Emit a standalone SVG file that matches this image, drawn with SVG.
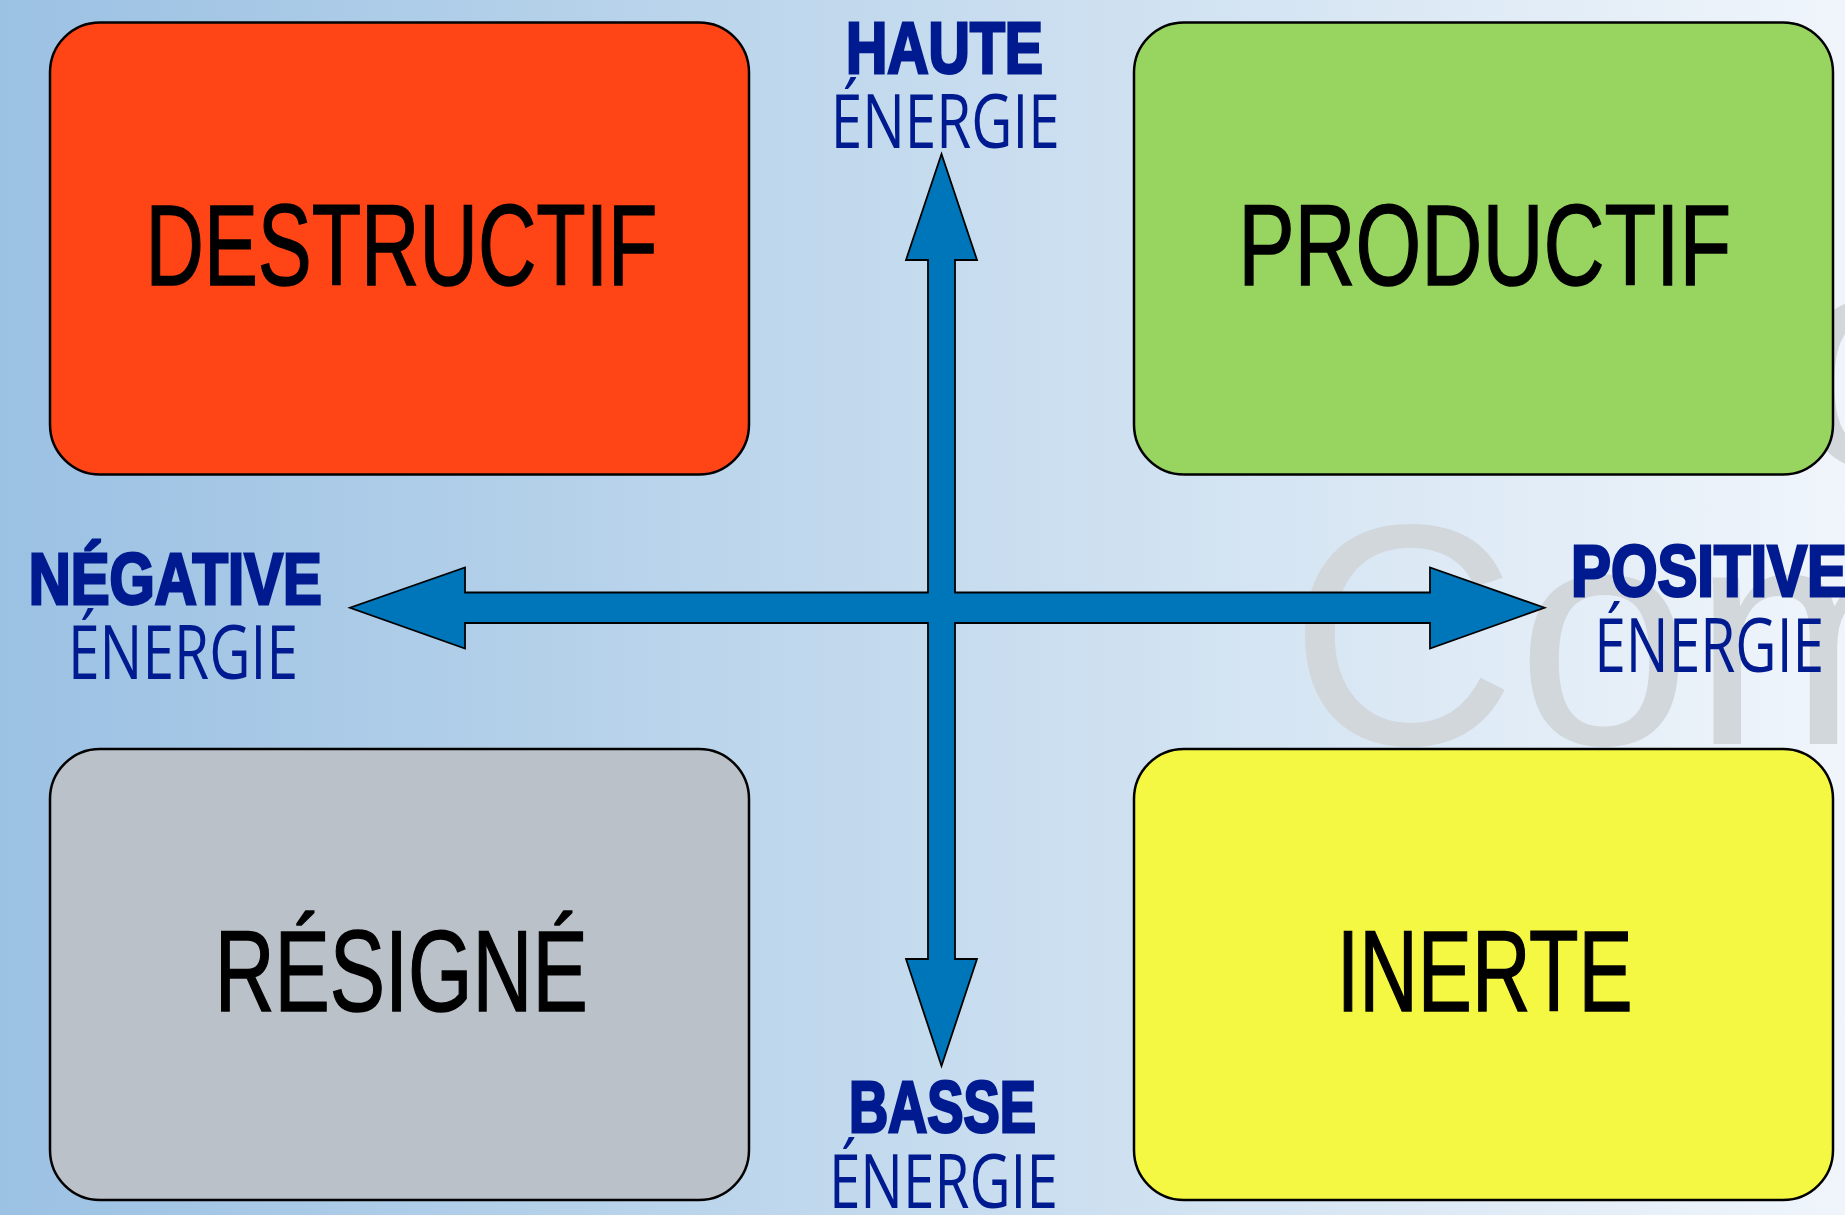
<svg xmlns="http://www.w3.org/2000/svg" width="1845" height="1215" viewBox="0 0 1845 1215">
<defs>
<linearGradient id="bg" x1="0" y1="0" x2="1" y2="0">
<stop offset="0" stop-color="#9BC1E3"/>
<stop offset="0.5" stop-color="#C5DBEE"/>
<stop offset="1" stop-color="#F0F5FB"/>
</linearGradient>
<style>
.box{stroke:#000;stroke-width:2.5}
.lbl{font-family:"Liberation Sans",Arial,sans-serif;font-size:115px;fill:#000;stroke:#000;stroke-width:1.5;text-anchor:middle}
.bold{font-family:"Liberation Sans",Arial,sans-serif;font-weight:700;font-size:72.6px;fill:#001A8F;stroke:#001A8F;stroke-width:3;text-anchor:middle}
.thin{font-family:"Open Sans","Liberation Sans",sans-serif;font-weight:400;font-size:75.5px;fill:#001A8F;text-anchor:middle}
.wm{font-family:"Liberation Sans",Arial,sans-serif;font-size:315px;fill:#D2D7DC}
.arrow{fill:#0076BA;stroke:#000;stroke-width:1.8;stroke-linejoin:miter}
</style>
</defs>
<rect width="1845" height="1215" fill="url(#bg)"/>
<g id="watermark">
<text class="wm" x="1792" y="467">o</text>
<text class="wm" x="1289" y="744">Com</text>
</g>
<g id="connectors">
<path class="arrow" d="M941.5,154 L977,260 L955,260 L955,592.5 L1430,592.5 L1430,567.5 L1544.5,607.75 L1430,648.5 L1430,623 L955,623 L955,959 L977,959 L941.5,1066 L906,959 L928,959 L928,623 L465,623 L465,648.5 L350,607.75 L465,567.5 L465,592.5 L928,592.5 L928,260 L906,260 Z"/>
</g>
<g id="node-destructif">
<rect class="box" x="50" y="22.5" width="699" height="452" rx="50" ry="50" fill="#FF4416"/>
<text class="lbl" x="401.5" y="284.75" textLength="512" lengthAdjust="spacingAndGlyphs">DESTRUCTIF</text>
</g>
<g id="node-productif">
<rect class="box" x="1134" y="22.5" width="699" height="452" rx="50" ry="50" fill="#97D560"/>
<text class="lbl" x="1484.7" y="284.75" textLength="493" lengthAdjust="spacingAndGlyphs">PRODUCTIF</text>
</g>
<g id="node-resigne">
<rect class="box" x="50" y="749" width="699" height="451" rx="50" ry="50" fill="#BAC1C9"/>
<text class="lbl" x="401.2" y="1011" textLength="373" lengthAdjust="spacingAndGlyphs">RÉSIGNÉ</text>
</g>
<g id="node-inerte">
<rect class="box" x="1134" y="749" width="699" height="451" rx="50" ry="50" fill="#F5F842"/>
<text class="lbl" x="1484.7" y="1011" textLength="296" lengthAdjust="spacingAndGlyphs">INERTE</text>
</g>
<g id="label-haute">
<text class="bold" x="944.5" y="72.5" textLength="197" lengthAdjust="spacingAndGlyphs">HAUTE</text>
<text class="thin" x="945.2" y="148.3" textLength="229" lengthAdjust="spacingAndGlyphs">ÉNERGIE</text>
</g>
<g id="label-negative">
<text class="bold" x="175.3" y="603.5" textLength="293" lengthAdjust="spacingAndGlyphs">NÉGATIVE</text>
<text class="thin" x="183" y="679.3" textLength="230" lengthAdjust="spacingAndGlyphs">ÉNERGIE</text>
</g>
<g id="label-positive">
<text class="bold" x="1709" y="595.8" textLength="276" lengthAdjust="spacingAndGlyphs">POSITIVE</text>
<text class="thin" x="1709.2" y="671.7" textLength="230" lengthAdjust="spacingAndGlyphs">ÉNERGIE</text>
</g>
<g id="label-basse">
<text class="bold" x="942.4" y="1131.8" textLength="187" lengthAdjust="spacingAndGlyphs">BASSE</text>
<text class="thin" x="943.4" y="1207.7" textLength="229" lengthAdjust="spacingAndGlyphs">ÉNERGIE</text>
</g>
</svg>
